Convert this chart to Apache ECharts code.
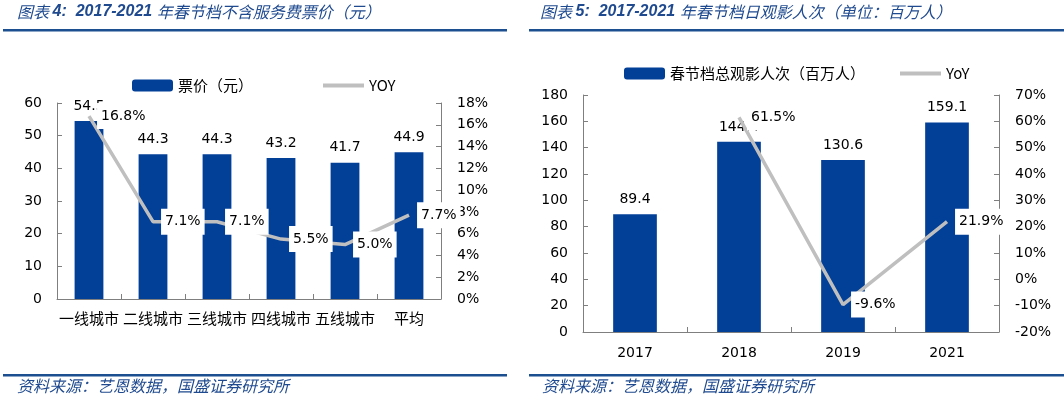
<!DOCTYPE html>
<html>
<head>
<meta charset="utf-8">
<script src="https://cdn.jsdelivr.net/npm/echarts@6/dist/echarts.min.js"></script>
<style>
  html, body { margin: 0; padding: 0; background: #fff; }
  #chart { width: 1064px; height: 398px; }
</style>
</head>
<body>
<div id="chart"></div>
<script>
// left chart: ticket price by city tier
const cityTiers = ['一线城市', '二线城市', '三线城市', '四线城市', '五线城市', '平均']
const ticketPrice = [54.5, 44.3, 44.3, 43.2, 41.7, 44.9]
const priceYoy = [16.8, 7.1, 7.1, 5.5, 5.0, 7.7]

// right chart: spring festival admissions
const years = ['2017', '2018', '2019', '2021']
const admissions = [89.4, 144.4, 130.6, 159.1]
const admissionsYoy = ['-', 61.5, -9.6, 21.9]

const BAR_BLUE = '#023f97'
const LINE_GREY = '#bfbfbf'
const TITLE_BLUE = '#1f4a8f'
const NUM_FONT = 'DejaVu Sans, Noto Sans CJK SC, sans-serif'
const CJK_FONT = 'Noto Sans CJK SC, sans-serif'

const chart = echarts.init(document.getElementById('chart'), null, { renderer: 'canvas' })

const axisCommon = {
  axisLine: { show: true, lineStyle: { color: '#7f7f7f', width: 1 } },
  axisTick: { show: true, inside: true, length: 5, lineStyle: { color: '#7f7f7f' } },
  splitLine: { show: false },
  axisLabel: { color: '#000', fontSize: 14, fontFamily: NUM_FONT, margin: 15 },
}

const lineLabel = {
  show: true,
  position: 'right',
  distance: 8,
  formatter: (p) => p.value.toFixed(1) + '%',
  color: '#000',
  fontSize: 14,
  fontFamily: NUM_FONT,
  backgroundColor: '#fff',
  padding: [6, 4],
}

const barLabel = {
  show: true,
  position: 'top',
  distance: 8,
  formatter: (p) => p.value.toFixed(1),
  color: '#000',
  fontSize: 14,
  fontFamily: NUM_FONT,
}

const titleRich = {
  n: { fontSize: 16, fontStyle: 'italic', fontWeight: 'normal', color: TITLE_BLUE, fontFamily: CJK_FONT },
  b: { fontSize: 16, fontStyle: 'italic', fontWeight: 'bold', color: TITLE_BLUE, fontFamily: 'Liberation Sans, sans-serif' },
}

const footStyle = { fontSize: 16, fontStyle: 'italic', fontWeight: 'normal', color: TITLE_BLUE, fontFamily: CJK_FONT }

const option = {
  animation: false,
  title: [
    { text: '{n|图表 }{b|4:  2017-2021 }{n|年春节档不含服务费票价（元）}', left: 17, top: 4, padding: 0, textStyle: { fontWeight: 'normal', rich: titleRich } },
    { text: '{n|图表 }{b|5:  2017-2021 }{n|年春节档日观影人次（单位：百万人）}', left: 540, top: 4, padding: 0, textStyle: { fontWeight: 'normal', rich: titleRich } },
    { text: '资料来源：艺恩数据，国盛证券研究所', left: 17, top: 378, padding: 0, textStyle: footStyle },
    { text: '资料来源：艺恩数据，国盛证券研究所', left: 542, top: 378, padding: 0, textStyle: footStyle },
  ],
  graphic: [
    { type: 'rect', shape: { x: 3, y: 29, width: 504, height: 2.5 }, style: { fill: '#1b4f8f' } },
    { type: 'rect', shape: { x: 529, y: 29, width: 535, height: 2.5 }, style: { fill: '#1b4f8f' } },
    { type: 'rect', shape: { x: 3, y: 374, width: 504, height: 2.5 }, style: { fill: '#1b4f8f' } },
    { type: 'rect', shape: { x: 529, y: 374, width: 535, height: 2.5 }, style: { fill: '#1b4f8f' } },
  ],
  legend: [
    {
      left: 127, top: 73,
      itemWidth: 41, itemHeight: 12, itemGap: 70,
      textStyle: { fontSize: 15, color: '#000', fontFamily: CJK_FONT },
      data: [
        { name: '票价（元）', icon: 'roundRect' },
        { name: 'YOY', icon: 'path://M0,0H40V4H0Z' },
      ],
    },
    {
      left: 619, top: 61,
      itemWidth: 41, itemHeight: 12, itemGap: 35,
      textStyle: { fontSize: 15, color: '#000', fontFamily: CJK_FONT },
      data: [
        { name: '春节档总观影人次（百万人）', icon: 'roundRect' },
        { name: 'YoY', icon: 'path://M0,0H40V4H0Z' },
      ],
    },
  ],
  grid: [
    { left: 57, right: 623, top: 103, bottom: 99 },
    { left: 583, right: 65, top: 95, bottom: 66 },
  ],
  xAxis: [
    {
      ...axisCommon, type: 'category', gridIndex: 0, data: cityTiers,
      axisLabel: { ...axisCommon.axisLabel, fontFamily: CJK_FONT, fontSize: 15, interval: 0, margin: 12 },
    },
    {
      ...axisCommon, type: 'category', gridIndex: 1, data: years,
      axisLabel: { ...axisCommon.axisLabel, margin: 14 },
    },
  ],
  yAxis: [
    { ...axisCommon, type: 'value', gridIndex: 0, min: 0, max: 60, interval: 10 },
    {
      ...axisCommon, type: 'value', gridIndex: 0, min: 0, max: 18, interval: 2,
      axisLabel: { ...axisCommon.axisLabel, formatter: '{value}%', margin: 16 },
    },
    { ...axisCommon, type: 'value', gridIndex: 1, min: 0, max: 180, interval: 20 },
    {
      ...axisCommon, type: 'value', gridIndex: 1, min: -20, max: 70, interval: 10,
      axisLabel: { ...axisCommon.axisLabel, formatter: '{value}%', margin: 16 },
    },
  ],
  series: [
    {
      name: '票价（元）', type: 'bar', xAxisIndex: 0, yAxisIndex: 0,
      data: ticketPrice, barWidth: '45%',
      itemStyle: { color: BAR_BLUE },
      label: barLabel,
    },
    {
      name: 'YOY', type: 'line', xAxisIndex: 0, yAxisIndex: 1,
      data: priceYoy, symbol: 'circle', symbolSize: 0.1, showSymbol: true,
      lineStyle: { color: LINE_GREY, width: 3.5 },
      itemStyle: { color: LINE_GREY },
      label: lineLabel,
      labelLayout: { hideOverlap: false },
    },
    {
      name: '春节档总观影人次（百万人）', type: 'bar', xAxisIndex: 1, yAxisIndex: 2,
      data: admissions, barWidth: '42%',
      itemStyle: { color: BAR_BLUE },
      label: barLabel,
    },
    {
      name: 'YoY', type: 'line', xAxisIndex: 1, yAxisIndex: 3,
      data: admissionsYoy.map((v, i) => i === 3 ? { value: v, label: { offset: [4, -9] } } : v),
      symbol: 'circle', symbolSize: 0.1, showSymbol: true,
      lineStyle: { color: LINE_GREY, width: 3.5 },
      itemStyle: { color: LINE_GREY },
      label: lineLabel,
      labelLayout: { hideOverlap: false },
    },
  ],
}

chart.setOption(option)
</script>
</body>
</html>
